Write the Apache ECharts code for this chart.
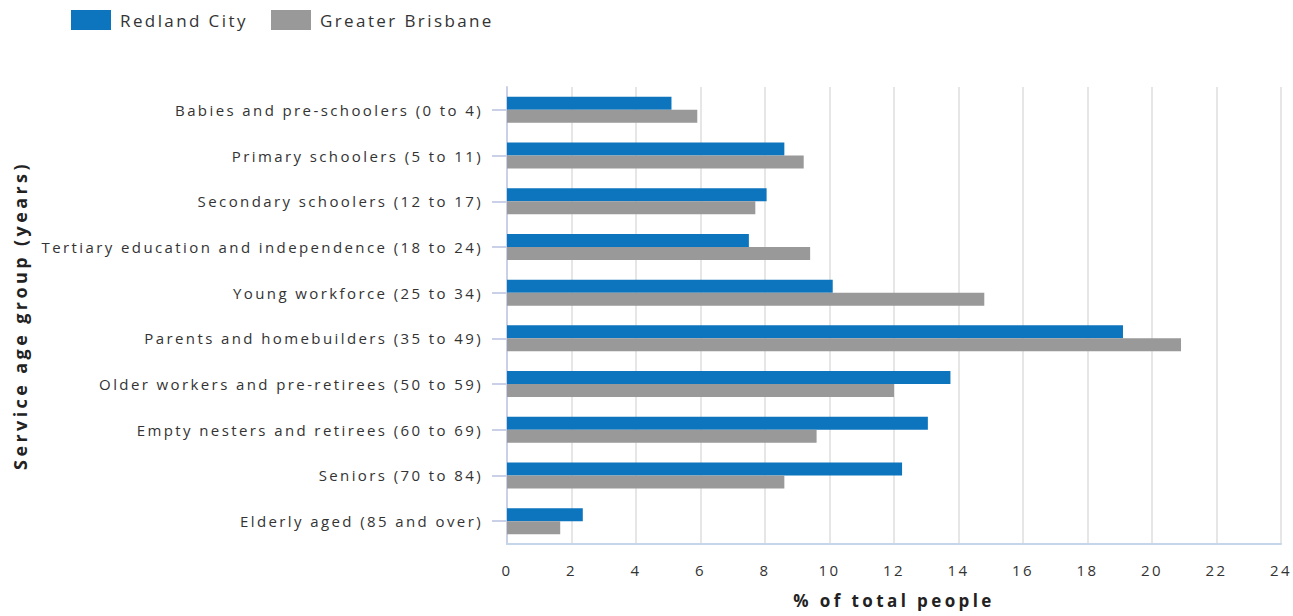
<!DOCTYPE html>
<html>
<head>
<meta charset="utf-8">
<script src="https://cdn.jsdelivr.net/npm/echarts@6/dist/echarts.min.js"></script>
<style>
  html, body { margin: 0; padding: 0; background: #fff; }
  #chart { width: 1293px; height: 616px; }
  /* spaced-out lettering like the original */
  #chart svg text { letter-spacing: 2.4px; }
  #chart svg text[style*="bold"] { letter-spacing: 3.4px; }
</style>
</head>
<body>
<div id="chart"></div>
<script>
const categories = [
  "Babies and pre-schoolers (0 to 4)",
  "Primary schoolers (5 to 11)",
  "Secondary schoolers (12 to 17)",
  "Tertiary education and independence (18 to 24)",
  "Young workforce (25 to 34)",
  "Parents and homebuilders (35 to 49)",
  "Older workers and pre-retirees (50 to 59)",
  "Empty nesters and retirees (60 to 69)",
  "Seniors (70 to 84)",
  "Elderly aged (85 and over)"
];
const redlandCity = [5.1, 8.6, 8.05, 7.5, 10.1, 19.1, 13.75, 13.05, 12.25, 2.35];
const greaterBrisbane = [5.9, 9.2, 7.7, 9.4, 14.8, 20.9, 12.0, 9.6, 8.6, 1.65];

const chart = echarts.init(document.getElementById("chart"), null, { renderer: "svg" });
const font = "'Open Sans', sans-serif";

chart.setOption({
  animation: false,
  textStyle: { fontFamily: font, color: "#333" },
  legend: {
    left: 71,
    top: 10,
    padding: 0,
    itemWidth: 40,
    itemHeight: 20,
    itemGap: 52,
    icon: "rect",
    textStyle: { fontSize: 17, color: "#333", fontFamily: font, padding: [0, 0, 0, 4] },
    data: ["Redland City", "Greater Brisbane"]
  },
  grid: { left: 507, right: 12, top: 87, bottom: 72 },
  xAxis: {
    type: "value",
    min: 0,
    max: 24,
    interval: 2,
    name: "% of total people",
    nameLocation: "middle",
    nameGap: 48,
    nameTextStyle: { fontSize: 17, fontWeight: "bold", color: "#222", fontFamily: font },
    axisLine: { show: true, lineStyle: { color: "#c5d5ea", width: 2 } },
    axisTick: { show: false },
    axisLabel: { fontSize: 15, color: "#333", margin: 18, fontFamily: font },
    splitLine: { show: true, lineStyle: { color: "#e6e6e6", width: 2 } }
  },
  yAxis: {
    type: "category",
    inverse: true,
    data: categories,
    name: "Service age group (years)",
    nameLocation: "middle",
    nameGap: 478,
    nameTextStyle: { fontSize: 18, fontWeight: "bold", color: "#222", fontFamily: font },
    axisLine: { show: true, lineStyle: { color: "#c9d0e8", width: 2 } },
    axisTick: { show: true, alignWithLabel: true, length: 15, lineStyle: { color: "#c9d0e8", width: 2 } },
    axisLabel: { fontSize: 15, color: "#333", margin: 24, fontFamily: font },
    splitLine: { show: false }
  },
  series: [
    {
      name: "Redland City",
      type: "bar",
      data: redlandCity,
      barWidth: 13,
      barGap: "0%",
      itemStyle: { color: "#0c75bd" }
    },
    {
      name: "Greater Brisbane",
      type: "bar",
      data: greaterBrisbane,
      barWidth: 13,
      itemStyle: { color: "#999999" }
    }
  ]
});
</script>
</body>
</html>
